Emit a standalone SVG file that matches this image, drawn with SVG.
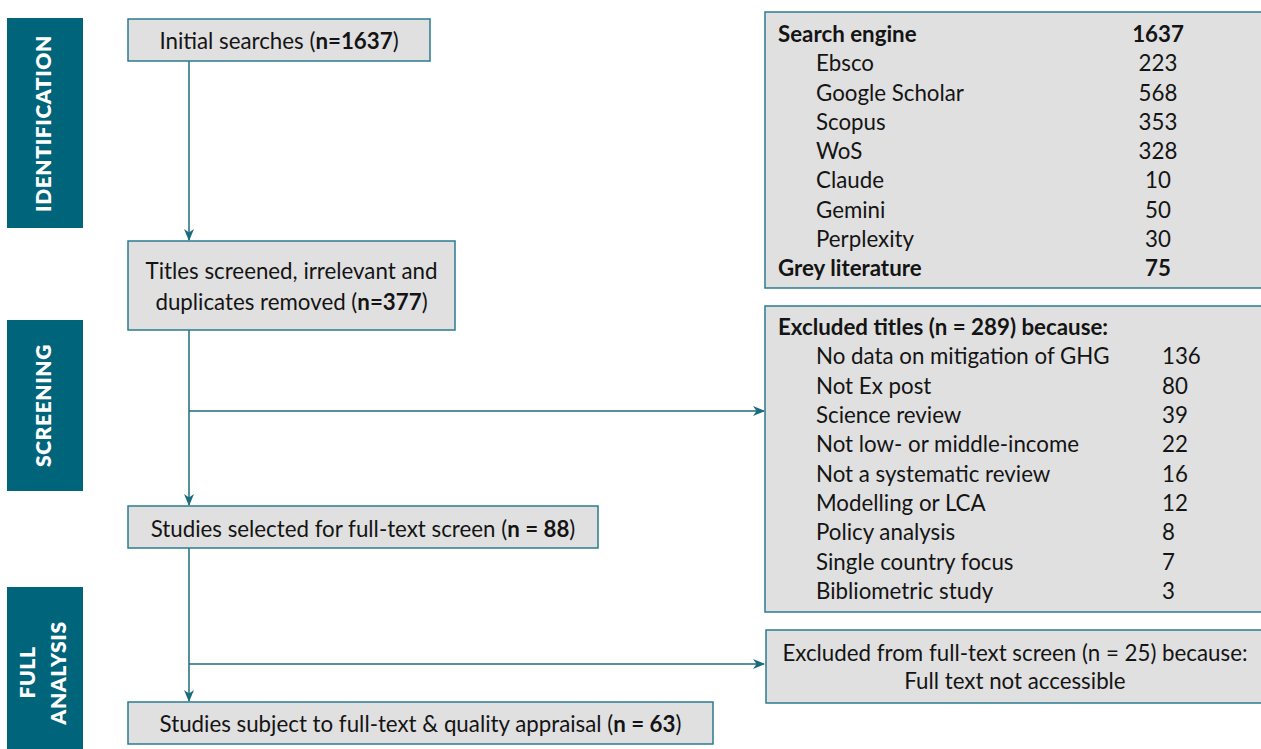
<svg xmlns="http://www.w3.org/2000/svg" width="1261" height="749" viewBox="0 0 1261 749">
  <style>
    .bar { fill: #00647a; }
    .bar-label { fill: #ffffff; font-family: Lato, "Liberation Sans", sans-serif; font-weight: 800; font-size: 21px; letter-spacing: 0.6px; text-anchor: middle; }
    .box { fill: #e0e0e0; stroke: #2b7c90; stroke-width: 1.5; }
    .t { fill: #141414; font-family: Lato, "Liberation Sans", sans-serif; font-size: 22.3px; }
    .mid { text-anchor: middle; }
    .b { font-weight: 700; }
    .link { fill: none; stroke: #1b6b7e; stroke-width: 1.5; }
  </style>
  <defs>
    <marker id="arrow" viewBox="0 0 12 10" refX="11" refY="5" markerWidth="12" markerHeight="10" markerUnits="userSpaceOnUse" orient="auto">
      <path d="M0,0 L12,5 L0,10 L3.5,5 Z" fill="#1b6b7e"/>
    </marker>
  </defs>

  <rect width="1261" height="749" fill="#ffffff"/>

  <!-- phase bars -->
  <g id="phase-identification">
    <rect class="bar" x="7" y="18" width="76" height="210"/>
    <text class="bar-label" transform="translate(43.5,123.5) rotate(-90)" y="7.5">IDENTIFICATION</text>
  </g>
  <g id="phase-screening">
    <rect class="bar" x="7" y="320" width="76" height="171"/>
    <text class="bar-label" transform="translate(43.5,405.5) rotate(-90)" y="7.5">SCREENING</text>
  </g>
  <g id="phase-full-analysis">
    <rect class="bar" x="7" y="587" width="76" height="162"/>
    <text class="bar-label" transform="translate(27.5,672.5) rotate(-90)" y="7.5">FULL</text>
    <text class="bar-label" transform="translate(58,673) rotate(-90)" y="7.5">ANALYSIS</text>
  </g>

  <!-- connectors -->
  <g id="connectors">
    <line class="link" x1="189" y1="61" x2="189" y2="240" marker-end="url(#arrow)"/>
    <line class="link" x1="189" y1="330" x2="189" y2="505" marker-end="url(#arrow)"/>
    <line class="link" x1="189" y1="411" x2="764" y2="411" marker-end="url(#arrow)"/>
    <line class="link" x1="189" y1="548" x2="189" y2="701" marker-end="url(#arrow)"/>
    <line class="link" x1="189" y1="664" x2="764" y2="664" marker-end="url(#arrow)"/>
  </g>

  <!-- flow boxes -->
  <g id="initial-searches">
    <rect class="box" x="128" y="19" width="302" height="42"/>
    <text class="t mid" x="279" y="49">Initial searches (<tspan class="b">n=1637</tspan>)</text>
  </g>
  <g id="titles-screened">
    <rect class="box" x="128" y="241" width="327" height="89"/>
    <text class="t mid" x="291.5" y="279">Titles screened, irrelevant and</text>
    <text class="t mid" x="291.5" y="309.5">duplicates removed (<tspan class="b">n=377</tspan>)</text>
  </g>
  <g id="full-text-selected">
    <rect class="box" x="128" y="506" width="470" height="42"/>
    <text class="t mid" x="363" y="537">Studies selected for full-text screen (<tspan class="b">n = 88</tspan>)</text>
  </g>
  <g id="quality-appraisal">
    <rect class="box" x="128" y="702" width="585" height="42"/>
    <text class="t mid" x="420.5" y="732">Studies subject to full-text &amp; quality appraisal (<tspan class="b">n = 63</tspan>)</text>
  </g>

  <!-- search source table -->
  <g id="search-sources">
    <rect class="box" x="765" y="12" width="500" height="276"/>
    <text class="t b" x="778" y="42">Search engine</text>
    <text class="t b mid" x="1158" y="42">1637</text>
    <text class="t" x="816" y="71.3">Ebsco</text>
    <text class="t mid" x="1158" y="71.3">223</text>
    <text class="t" x="816" y="100.5">Google Scholar</text>
    <text class="t mid" x="1158" y="100.5">568</text>
    <text class="t" x="816" y="129.8">Scopus</text>
    <text class="t mid" x="1158" y="129.8">353</text>
    <text class="t" x="816" y="159">WoS</text>
    <text class="t mid" x="1158" y="159">328</text>
    <text class="t" x="816" y="188.3">Claude</text>
    <text class="t mid" x="1158" y="188.3">10</text>
    <text class="t" x="816" y="217.5">Gemini</text>
    <text class="t mid" x="1158" y="217.5">50</text>
    <text class="t" x="816" y="246.8">Perplexity</text>
    <text class="t mid" x="1158" y="246.8">30</text>
    <text class="t b" x="778" y="276">Grey literature</text>
    <text class="t b mid" x="1158" y="276">75</text>
  </g>

  <!-- excluded titles -->
  <g id="excluded-titles">
    <rect class="box" x="765" y="306" width="500" height="306"/>
    <text class="t b" x="778" y="335">Excluded titles (n = 289) because:</text>
    <text class="t" x="816" y="364.3">No data on mitigation of GHG</text>
    <text class="t" x="1162" y="364.3">136</text>
    <text class="t" x="816" y="393.7">Not Ex post</text>
    <text class="t" x="1162" y="393.7">80</text>
    <text class="t" x="816" y="423">Science review</text>
    <text class="t" x="1162" y="423">39</text>
    <text class="t" x="816" y="452.3">Not low- or middle-income</text>
    <text class="t" x="1162" y="452.3">22</text>
    <text class="t" x="816" y="481.7">Not a systematic review</text>
    <text class="t" x="1162" y="481.7">16</text>
    <text class="t" x="816" y="511">Modelling or LCA</text>
    <text class="t" x="1162" y="511">12</text>
    <text class="t" x="816" y="540.3">Policy analysis</text>
    <text class="t" x="1162" y="540.3">8</text>
    <text class="t" x="816" y="569.7">Single country focus</text>
    <text class="t" x="1162" y="569.7">7</text>
    <text class="t" x="816" y="599">Bibliometric study</text>
    <text class="t" x="1162" y="599">3</text>
  </g>

  <!-- excluded at full-text stage -->
  <g id="excluded-full-text">
    <rect class="box" x="766" y="630" width="500" height="73"/>
    <text class="t mid" x="1015" y="661">Excluded from full-text screen (n = 25) because:</text>
    <text class="t mid" x="1015" y="689">Full text not accessible</text>
  </g>
</svg>
